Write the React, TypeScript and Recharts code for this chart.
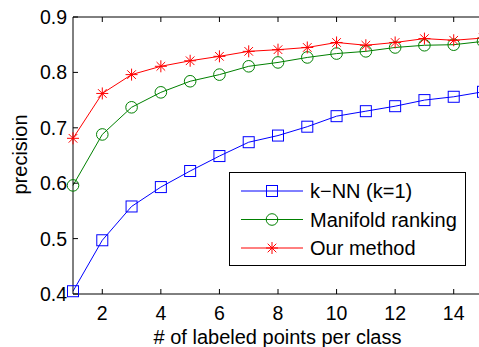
import React from 'react';
import { LineChart, Line, XAxis, YAxis, Legend } from 'recharts';

const labeledPoints = [1, 2, 3, 4, 5, 6, 7, 8, 9, 10, 11, 12, 13, 14, 15];
const knn = [0.405, 0.497, 0.558, 0.593, 0.622, 0.649, 0.674, 0.686, 0.702, 0.721, 0.73, 0.739, 0.75, 0.756, 0.765];
const manifold = [0.596, 0.688, 0.737, 0.764, 0.784, 0.796, 0.811, 0.818, 0.827, 0.834, 0.838, 0.845, 0.849, 0.85, 0.856];
const ours = [0.681, 0.762, 0.796, 0.811, 0.821, 0.829, 0.838, 0.841, 0.845, 0.854, 0.849, 0.854, 0.861, 0.858, 0.862];
const xTicks = [2, 4, 6, 8, 10, 12, 14];
const yTicks = [0.4, 0.5, 0.6, 0.7, 0.8, 0.9];

const data = labeledPoints.map((n, i) => ({ n, knn: knn[i], manifold: manifold[i], ours: ours[i] }));

const FONT = '"Liberation Sans", Arial, Helvetica, sans-serif';
const BLUE = '#0000ff';
const GREEN = '#008000';
const RED = '#ff0000';

const Square = ({ cx, cy }: any) => (
  <rect x={cx - 5.5} y={cy - 5.5} width={11} height={11} fill="none" stroke={BLUE} strokeWidth={1} />
);
const Ring = ({ cx, cy }: any) => <circle cx={cx} cy={cy} r={5.8} fill="none" stroke={GREEN} strokeWidth={1} />;
const Star = ({ cx, cy }: any) => {
  const r = 6;
  const d = 4.3;
  return (
    <g stroke={RED} strokeWidth={1}>
      <line x1={cx} y1={cy - r} x2={cx} y2={cy + r} />
      <line x1={cx - r} y1={cy} x2={cx + r} y2={cy} />
      <line x1={cx - d} y1={cy - d} x2={cx + d} y2={cy + d} />
      <line x1={cx - d} y1={cy + d} x2={cx + d} y2={cy - d} />
    </g>
  );
};

const BottomTick = (props: any) => {
  const { x, y, payload } = props;
  return (
    <g>
      <line x1={x} x2={x} y1={y} y2={y - 5} stroke="#000" />
      <text x={x} y={y + 25.5} textAnchor="middle" fontSize={19.5} fontFamily={FONT} fill="#000">
        {payload.value}
      </text>
    </g>
  );
};

const TopTick = (props: any) => {
  const { x, y } = props;
  return <line x1={x} x2={x} y1={y} y2={y + 5} stroke="#000" />;
};

const LeftTick = (props: any) => {
  const { x, y, payload } = props;
  return (
    <g>
      <line x1={x} x2={x + 5} y1={y} y2={y} stroke="#000" />
      <text x={x - 6} y={y + 7} textAnchor="end" fontSize={19.5} fontFamily={FONT} fill="#000">
        {payload.value.toFixed(1)}
      </text>
    </g>
  );
};

const legendItems = [
  { name: 'k\u2212NN (k=1)', color: BLUE, Marker: Square },
  { name: 'Manifold ranking', color: GREEN, Marker: Ring },
  { name: 'Our method', color: RED, Marker: Star },
];

const renderLegend = () => (
  <svg width={237} height={94} style={{ display: 'block' }}>
    <rect x={0.5} y={0.5} width={236} height={93} fill="#fff" stroke="#000" strokeWidth={1} />
    {legendItems.map((item, i) => {
      const cy = 19 + i * 28.5;
      const { Marker } = item;
      return (
        <g key={item.name}>
          <line x1={12} x2={74} y1={cy} y2={cy} stroke={item.color} strokeWidth={1} />
          <Marker cx={43} cy={cy} />
          <text x={81} y={cy + 7} fontSize={20} fontFamily={FONT} fill="#000">
            {item.name}
          </text>
        </g>
      );
    })}
  </svg>
);

export default function App() {
  return (
    <div style={{ position: 'absolute', left: 0, top: 0, width: 479, height: 347, overflow: 'hidden', background: '#fff' }}>
      <LineChart width={500} height={347} data={data} margin={{ top: 16, right: 17, bottom: 0, left: 0 }}>
        <XAxis
          dataKey="n"
          type="number"
          domain={[1, 15]}
          ticks={xTicks}
          height={53}
          tickSize={0}
          tickMargin={0}
          tickLine={false}
          axisLine={{ stroke: '#000', strokeWidth: 1 }}
          tick={BottomTick}
          label={() => (
            <text x={277.5} y={344} textAnchor="middle" fontSize={20} fontFamily={FONT} fill="#000">
              # of labeled points per class
            </text>
          )}
        />
        <XAxis
          xAxisId="top"
          orientation="top"
          dataKey="n"
          type="number"
          domain={[1, 15]}
          ticks={xTicks}
          height={1}
          tickSize={0}
          tickMargin={0}
          tickLine={false}
          axisLine={{ stroke: '#000', strokeWidth: 1 }}
          tick={TopTick}
        />
        <YAxis
          type="number"
          domain={[0.4, 0.9]}
          ticks={yTicks}
          width={73}
          tickSize={0}
          tickMargin={0}
          tickLine={false}
          axisLine={{ stroke: '#000', strokeWidth: 1 }}
          tick={LeftTick}
          label={() => (
            <text
              transform="translate(27,154.5) rotate(-90)"
              textAnchor="middle"
              fontSize={20}
              fontFamily={FONT}
              fill="#000"
            >
              precision
            </text>
          )}
        />
        <Line
          dataKey="knn"
          stroke={BLUE}
          strokeWidth={1}
          isAnimationActive={false}
          dot={(p: any) => <Square key={`k${p.index}`} cx={p.cx} cy={p.cy} />}
        />
        <Line
          dataKey="manifold"
          stroke={GREEN}
          strokeWidth={1}
          isAnimationActive={false}
          dot={(p: any) => <Ring key={`m${p.index}`} cx={p.cx} cy={p.cy} />}
        />
        <Line
          dataKey="ours"
          stroke={RED}
          strokeWidth={1}
          isAnimationActive={false}
          dot={(p: any) => <Star key={`o${p.index}`} cx={p.cx} cy={p.cy} />}
        />
        <Legend
          layout="horizontal"
          verticalAlign="middle"
          align="center"
          wrapperStyle={{ left: 229, top: 172, width: 237, height: 94 }}
          content={renderLegend}
        />
      </LineChart>
    </div>
  );
}
